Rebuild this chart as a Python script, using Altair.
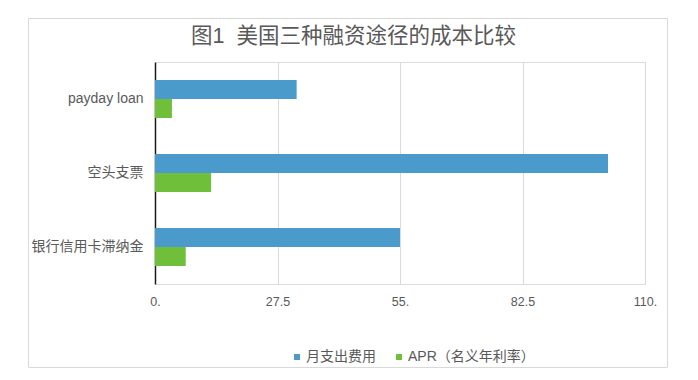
import altair as alt
import pandas as pd

categories = ["payday loan", "空头支票", "银行信用卡滞纳金"]
series = ["月支出费用", "APR（名义年利率）"]
monthly_cost = [31.8, 101.7, 55.0]
apr = [3.8, 12.6, 6.9]
tick_values = [0, 27.5, 55, 82.5, 110]
colors = ["#4A9BCB", "#70BF3B"]
title_text = "图1\u00a0\u00a0美国三种融资途径的成本比较"

rows = []
for c, m, a in zip(categories, monthly_cost, apr):
    rows.append({"cat": c, "series": series[0], "value": m})
    rows.append({"cat": c, "series": series[1], "value": a})
df = pd.DataFrame(rows)

FONT = "'Liberation Sans', 'Noto Sans CJK SC', sans-serif"
GREY = "#595959"

bars = alt.Chart(df).mark_bar().encode(
    x=alt.X("value:Q",
            scale=alt.Scale(domain=[0, 110], nice=False),
            axis=alt.Axis(values=tick_values, title=None, domain=False, ticks=False,
                          grid=True, gridColor="#d9d9d9", gridWidth=1, labelFlush=False,
                          labelExpr="datum.value % 1 === 0 ? datum.value + '.' : '' + datum.value",
                          labelFont=FONT, labelFontSize=12.5, labelColor=GREY,
                          labelPadding=11)),
    y=alt.Y("cat:N", sort=categories,
            scale=alt.Scale(paddingInner=0.486, paddingOuter=0.243),
            axis=alt.Axis(title=None, ticks=False, domain=True, domainColor="#1a1a1a",
                          domainWidth=1.5, labelFont=FONT, labelFontSize=14,
                          labelColor=GREY, labelPadding=12)),
    yOffset=alt.YOffset("series:N", sort=series, scale=alt.Scale(paddingInner=0, paddingOuter=0)),
    color=alt.Color("series:N", sort=series,
                    scale=alt.Scale(domain=series, range=colors),
                    legend=alt.Legend(title=None, orient="none", direction="horizontal",
                                      legendX=135, legendY=288, symbolType="square",
                                      symbolSize=36, symbolStrokeWidth=0, labelFont=FONT,
                                      labelFontSize=14, labelColor=GREY, labelOffset=2,
                                      columnPadding=16, padding=0)),
)

one = pd.DataFrame({"a": [0]})

frame = alt.Chart(one).mark_rect(
    fill="white", fillOpacity=0, stroke="#d9d9d9", strokeWidth=1
).encode(x=alt.value(-126.5), x2=alt.value(512.5), y=alt.value(-43.5), y2=alt.value(305.5))

title = alt.Chart(one).mark_text(
    text=title_text, font=FONT, fontSize=21.5, color=GREY, align="center", baseline="middle"
).encode(x=alt.value(198.5), y=alt.value(-25.5))

chart = alt.layer(frame, title, bars).properties(
    width=490, height=222,
    padding={"left": 20, "top": 10, "right": 5, "bottom": 5},
).configure_view(stroke=None).configure(background="white")

chart.save("out.html", embed_options={"renderer": "svg", "actions": False})
